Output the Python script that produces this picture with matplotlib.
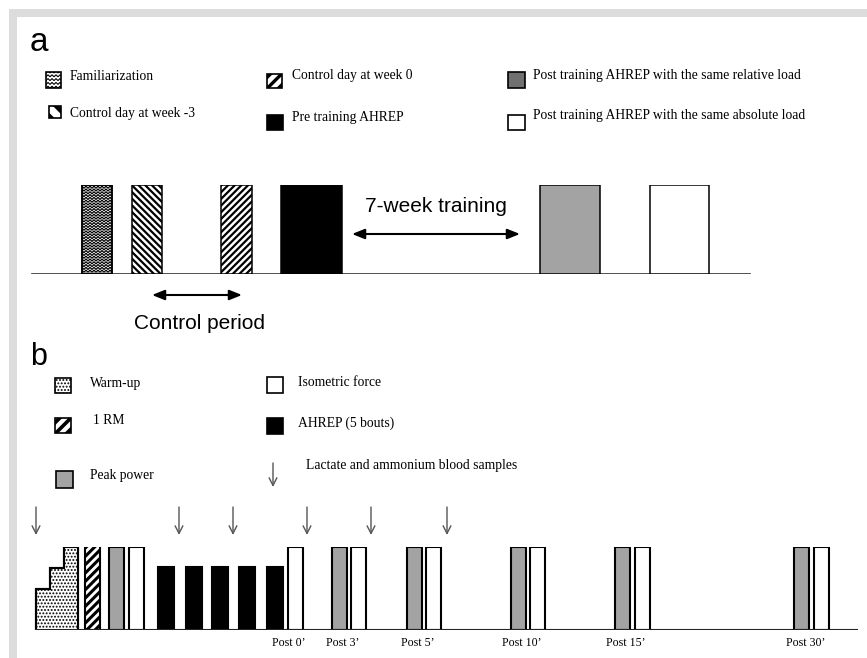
import numpy as np
import matplotlib as mpl
import matplotlib.pyplot as plt
from matplotlib.patches import Rectangle

W, H = 867, 658
SERIF = ['Liberation Serif', 'DejaVu Serif']
SANS = ['Liberation Sans', 'DejaVu Sans']

# ---------------- Panel a: study design ----------------
a_legend = ["Familiarization", "Control day at week -3", "Control day at week 0",
            "Pre training AHREP", "Post training AHREP with the same relative load",
            "Post training AHREP with the same absolute load"]
a_heights = [1.0, 1.0, 1.0, 1.0, 1.0, 1.0]
a_periods = ["7-week training", "Control period"]

# ---------------- Panel b: testing session ----------------
b_legend = ["Warm-up", "1 RM", "Peak power", "Isometric force", "AHREP (5 bouts)",
            "Lactate and ammonium blood samples"]
b_warmup_steps = [0.50, 0.75, 1.00]
b_rm_height = 1.15
b_test_height = 1.00
b_bout_height = 0.76
b_bouts = 5
b_post_labels = ["Post 0\u2019", "Post 3\u2019", "Post 5\u2019", "Post 10\u2019",
                 "Post 15\u2019", "Post 30\u2019"]

# ---------------- layout (pixels) ----------------
a_left = [82, 132, 221, 281, 540, 650]
a_width = [30, 30, 31, 61, 60, 59]
a_base_y, a_top_y = 274, 185
b_base_y, b_top_y = 630, 547
warm_edges = [36, 50, 64, 78]
rm_left, bw = 85, 14.5
pre_gray, pre_white = 109, 129
bout_left = [158, 186, 212, 239, 267]
post0_white = 288
post_gray = [332, 407, 511, 615, 794]
post_white = [351, 426, 530, 635, 814]
sample_x = [36, 179, 233, 307, 371, 447]

GRAY_B = '#a3a3a3'

fig = plt.figure(figsize=(W / 100, H / 100), dpi=100)
root = fig.add_axes([0, 0, 1, 1])
root.set_xlim(0, W)
root.set_ylim(H, 0)
root.axis('off')

# light frame along top and left
root.add_patch(Rectangle((9, 9), W - 9, 8, color='#dcdcdc', lw=0))
root.add_patch(Rectangle((9, 9), 8, H - 9, color='#dcdcdc', lw=0))


def panel_axes(base_y, top_y):
    ax = fig.add_axes([0, (H - base_y) / H, 1, (base_y - top_y) / H])
    ax.set_xlim(0, W)
    ax.set_ylim(0, 1)
    ax.axis('off')
    return ax


def set_hlw(patch, lw):
    if hasattr(patch, 'set_hatch_linewidth'):
        patch.set_hatch_linewidth(lw)


def zigzag(ax, patch, x0, x1, y0, y1, px_per_y, pitch=3.0, amp=1.0, step=2.0,
           lw=0.8, zorder=3.5):
    xs = np.arange(x0 - 4, x1 + 4, step)
    sign = np.where(np.arange(len(xs)) % 2 == 0, 1.0, -1.0)
    ys = np.arange(min(y0, y1) - pitch / px_per_y, max(y0, y1) + pitch / px_per_y,
                   pitch / px_per_y)
    for yy in ys:
        ln, = ax.plot(xs, yy + sign * amp / px_per_y, color='k', lw=lw,
                      solid_joinstyle='miter', zorder=zorder)
        ln.set_clip_path(patch)


# ---------------- Panel a drawing ----------------
ax_a = panel_axes(a_base_y, a_top_y)
a_px = a_base_y - a_top_y
a_styles = [dict(color='white', hatch=None),
            dict(color='white', hatch='\\\\\\\\\\'),
            dict(color='white', hatch='/////'),
            dict(color='black', hatch=None),
            dict(color=GRAY_B, hatch=None),
            dict(color='white', hatch=None)]
for i, h in enumerate(a_heights):
    with mpl.rc_context({'hatch.linewidth': 1.6}):
        bars = ax_a.bar(a_left[i], h, width=a_width[i], align='edge',
                        color=a_styles[i]['color'], hatch=a_styles[i]['hatch'],
                        edgecolor='black', linewidth=1.1, zorder=3)
    p = bars[0]
    set_hlw(p, 1.6)
    if i == 0:
        zigzag(ax_a, p, a_left[i], a_left[i] + a_width[i], 0, h, a_px,
               pitch=2.8, amp=1.1, step=2.0, lw=0.9)
        # redraw the outline over the texture
        ax_a.bar(a_left[i], h, width=a_width[i], align='edge', fill=False,
                 edgecolor='black', linewidth=1.1, zorder=4)
ax_a.axhline(0, xmin=32 / W, xmax=750 / W, color='#333333', lw=1.2, zorder=2)

arrow_kw = dict(arrowstyle='<|-|>,head_length=0.75,head_width=0.3', color='black',
                lw=1.5, shrinkA=0, shrinkB=0)
root.annotate('', xy=(520, 234), xytext=(352, 234), arrowprops=arrow_kw)
root.annotate('', xy=(242, 295), xytext=(152, 295), arrowprops=arrow_kw)
root.text(436, 212, a_periods[0], family=SANS, fontsize=15, ha='center', va='baseline')
root.text(200, 329, a_periods[1], family=SANS, fontsize=15, ha='center', va='baseline')
root.text(30, 51, 'a', family=SANS, fontsize=24, ha='left', va='baseline')

# legend a
leg_fs = 9.8
icon_a = [(46, 72, 15, 16), (49, 106, 12, 12), (267, 74, 15, 14),
          (267, 115, 16, 15), (508, 72, 17, 16), (508, 115, 17, 15)]
text_a = [(70, 76), (70, 114), (292, 76), (292, 117), (533, 76), (533, 115)]
icon_a_style = [dict(fc='white', hatch=None, hl=1.0),
                dict(fc='white', hatch='\\\\', hl=3.2),
                dict(fc='white', hatch='///', hl=2.4),
                dict(fc='black', hatch=None, hl=1.0),
                dict(fc='#707070', hatch=None, hl=1.0),
                dict(fc='white', hatch=None, hl=1.0)]
for (x, y, w, h), (tx, ty), st, lab in zip(icon_a, text_a, icon_a_style, a_legend):
    with mpl.rc_context({'hatch.linewidth': st['hl']}):
        r = Rectangle((x, y), w, h, facecolor=st['fc'], edgecolor='black',
                      hatch=st['hatch'], lw=1.2)
    set_hlw(r, st['hl'])
    root.add_patch(r)
    if lab == a_legend[0]:
        zigzag(root, r, x, x + w, y, y + h, 1.0, pitch=3.8, amp=1.0, step=2.0,
               lw=0.8, zorder=2)
    root.text(tx, ty, lab, family=SERIF, fontsize=leg_fs, ha='left', va='center')

# ---------------- Panel b drawing ----------------
ax_b = panel_axes(b_base_y, b_top_y)
EDGE_B = 1.5
with mpl.rc_context({'hatch.linewidth': 0.9}):
    st = ax_b.stairs(b_warmup_steps, warm_edges, baseline=0, fill=True,
                     facecolor='white', edgecolor='black', hatch='.....',
                     lw=EDGE_B, zorder=3)
set_hlw(st, 0.9)
# outline of the staircase
ax_b.stairs(b_warmup_steps, warm_edges, baseline=0, fill=False, color='black',
            lw=EDGE_B, zorder=4)

with mpl.rc_context({'hatch.linewidth': 2.2}):
    rm = ax_b.bar(rm_left, b_rm_height, width=bw, align='edge', color='white',
                  hatch='////', edgecolor='black', lw=EDGE_B, zorder=3)
set_hlw(rm[0], 2.2)

ax_b.bar([pre_gray] + post_gray, [b_test_height] * (1 + len(post_gray)), width=bw,
         align='edge', color=GRAY_B, edgecolor='black', lw=EDGE_B, zorder=3)
ax_b.bar([pre_white, post0_white] + post_white,
         [b_test_height] * (2 + len(post_white)), width=bw, align='edge',
         color='white', edgecolor='black', lw=EDGE_B, zorder=3)
ax_b.bar(bout_left[:b_bouts], [b_bout_height] * b_bouts, width=16, align='edge',
         color='black', edgecolor='black', lw=EDGE_B, zorder=3)
ax_b.axhline(0, xmin=36 / W, xmax=857 / W, color='#222222', lw=1.5, zorder=4)

# time-point labels
label_x = [post0_white + bw / 2 - 7] + \
          [(g + wt + bw) / 2 - 6 for g, wt in zip(post_gray, post_white)]
for lx, lab in zip(label_x, b_post_labels):
    root.text(lx, 643, lab, family=SERIF, fontsize=8.6, ha='center', va='center')

# blood sampling arrows
samp_kw = dict(arrowstyle='->,head_length=0.55,head_width=0.28', color='#555555',
               lw=1.0, shrinkA=0, shrinkB=0)
for sx in sample_x:
    root.annotate('', xy=(sx, 535), xytext=(sx, 507), arrowprops=samp_kw)

root.text(30, 365, 'b', family=SANS, fontsize=22, ha='left', va='baseline')

# legend b
icon_b = [(55, 378, 16, 15), (55, 418, 16, 15), (56, 471, 17, 17),
          (267, 377, 16, 16), (267, 418, 16, 16)]
text_b = [(90, 383), (93, 421), (90, 475), (298, 383), (298, 423), (306, 466)]
icon_b_style = [dict(fc='white', hatch='.....', hl=0.9),
                dict(fc='white', hatch='///', hl=2.6),
                dict(fc=GRAY_B, hatch=None, hl=1), dict(fc='white', hatch=None, hl=1),
                dict(fc='black', hatch=None, hl=1)]
for (x, y, w, h), stl in zip(icon_b, icon_b_style):
    with mpl.rc_context({'hatch.linewidth': stl['hl']}):
        r = Rectangle((x, y), w, h, facecolor=stl['fc'], edgecolor='black',
                      hatch=stl['hatch'], lw=1.2)
    set_hlw(r, stl['hl'])
    root.add_patch(r)
root.annotate('', xy=(273, 487), xytext=(273, 463), arrowprops=samp_kw)
for (tx, ty), lab in zip(text_b, b_legend):
    root.text(tx, ty, lab, family=SERIF, fontsize=leg_fs, ha='left', va='center')

fig.savefig('out.png', dpi=100)
